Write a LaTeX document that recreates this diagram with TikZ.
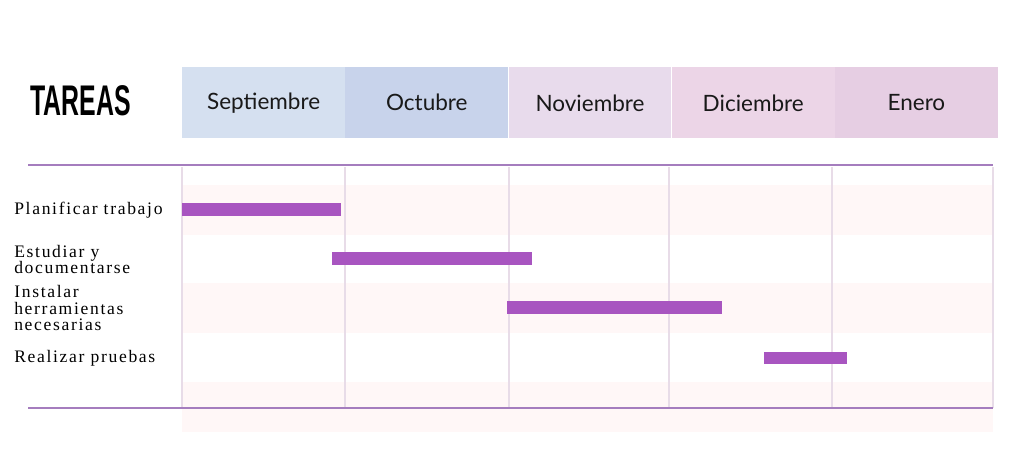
\documentclass[tikz,border=0pt]{standalone}
\usepackage{fontspec}
\usepackage{xcolor}
\usetikzlibrary{positioning}
\setmainfont{Liberation Serif}
\newfontfamily\titlefont[FakeStretch=0.58]{Liberation Sans}
\newfontfamily\monthfont{Lato}
\newfontfamily\taskfont[LetterSpace=9.5]{Liberation Serif}
\definecolor{sepcol}{RGB}{213, 224, 240}
\definecolor{octcol}{RGB}{200, 211, 235}
\definecolor{novcol}{RGB}{232, 219, 236}
\definecolor{diccol}{RGB}{236, 213, 231}
\definecolor{enecol}{RGB}{230, 206, 227}
\definecolor{rulecol}{RGB}{165, 125, 190}
\definecolor{gridcol}{RGB}{232, 220, 232}
\definecolor{stripecol}{RGB}{255, 247, 247}
\definecolor{barcol}{RGB}{168, 85, 192}

\begin{document}
\begin{tikzpicture}[x=0.025cm, y=-0.025cm,
  node distance=0pt,
  month/.style={minimum width=4.065cm, minimum height=1.775cm, inner sep=0pt, font=\monthfont\fontsize{16}{18}\selectfont, text=black!90},
  task/.style={anchor=west, inner sep=0pt, align=left, font=\taskfont\fontsize{12.5}{12}\selectfont},
  rule/.style={draw=rulecol, line width=1.4pt},
  gridline/.style={draw=gridcol, line width=1.4pt},
  stripe/.style={fill=stripecol},
  bar/.style={fill=barcol}]
  \useasboundingbox (0,0) rectangle (1024,454);

  % header
  \node[anchor=base west, inner sep=0pt, font=\titlefont\bfseries\fontsize{30.5}{32}\selectfont] (tareas) at (30,115) {TAREAS};
  \node[month, fill=sepcol, anchor=north west] (sep) at (182,67) {Septiembre};
  \node[month, fill=octcol, right=of sep] (oct) {Octubre};
  \node[month, fill=novcol, right=of oct] (nov) {Noviembre};
  \node[month, fill=diccol, right=of nov] (dic) {Diciembre};
  \node[month, fill=enecol, right=of dic] (ene) {Enero};

  % rows
  \foreach \y in {185, 283, 382}
    \fill[stripe] (182,\y) rectangle (993,\y+50);
  \coordinate (gtop) at (0,167);
  \coordinate (gbot) at (0,408);
  \foreach \x in {182, 345, 509, 669, 832, 993}
    \draw[gridline] (\x,0 |- gtop) -- (\x,0 |- gbot);
  \draw[rule] (28,165) -- (993,165);
  \draw[rule] (28,408) -- (993,408);

  % tasks
  \node[task] (t1) at (14,210) {Planificar trabajo};
  \node[task] (t2) at (14,259.5) {Estudiar y\\documentarse};
  \node[task] (t3) at (14,308) {Instalar\\herramientas\\necesarias};
  \node[task] (t4) at (14,358) {Realizar pruebas};

  % bars
  \fill[bar] (182,203) rectangle (341,216);
  \fill[bar] (332,252) rectangle (532,265);
  \fill[bar] (507,301) rectangle (722,314);
  \fill[bar] (764,352) rectangle (847,364);
\end{tikzpicture}
\end{document}
